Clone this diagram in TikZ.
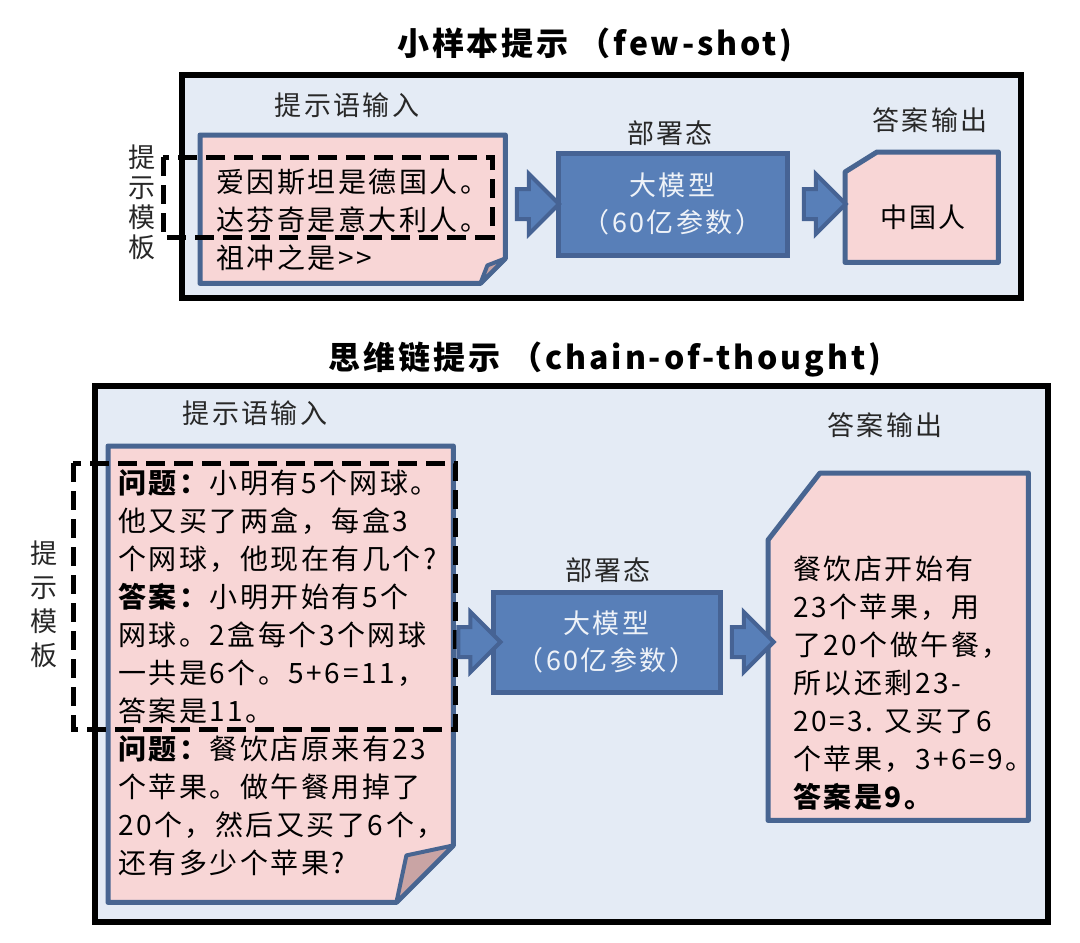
\documentclass[tikz,border=0pt]{standalone}
\usepackage{fontspec}
\setmainfont{Noto Sans CJK SC}[LetterSpace=9]
\usetikzlibrary{math}
\usetikzlibrary{calc}
\usetikzlibrary{shapes.arrows}

\definecolor{panelblue}{RGB}{228,235,245}
\definecolor{notepink}{RGB}{248,214,214}
\definecolor{noteblue}{RGB}{72,101,145}
\definecolor{flappink}{RGB}{201,164,164}
\definecolor{modelfill}{RGB}{88,127,184}
\definecolor{modelline}{RGB}{70,99,148}
\definecolor{modeltext}{RGB}{238,242,248}
\definecolor{labelgray}{RGB}{40,40,40}

\tikzset{
	panelbox/.style={draw=black, line width=6pt, fill=panelblue},
	notebox/.style={rectangle, inner sep=0pt},
	noteline/.style={draw=noteblue, line width=5pt, fill=notepink, line join=round},
	flapline/.style={draw=noteblue, line width=4pt, fill=flappink, line join=round},
	modelbox/.style={rectangle, draw=modelline, fill=modelfill, line width=5pt, text=modeltext, align=center, font=\fontsize{27}{37}\selectfont},
	blockarrow/.style={single arrow, draw=modelline, fill=modelfill, line width=4pt, minimum height=42pt, inner xsep=0pt, inner ysep=13pt, single arrow head extend=15pt, single arrow head indent=0pt},
	templatebox/.style={draw=black, line width=5pt, dash pattern=on 19pt off 9pt},
	caption/.style={font=\fontsize{27}{27}\selectfont, text=labelgray},
	heading/.style={font=\bfseries\fontsize{32}{32}\selectfont},
	body/.style={anchor=north west, inner sep=0pt, align=left, font=\fontsize{28}{38}\selectfont},
	sidelabel/.style={align=center, inner sep=0pt, text=labelgray},
}

\begin{document}
\begin{tikzpicture}[x=1pt, y=-1pt]
	% Constants
	\tikzmath{
		\foldsmall = 25; \foldlarge = 57;
	}
	\useasboundingbox[fill=white] (0,0) rectangle (1080,943);

	% ---- Few-shot ----
	\begin{scope}
		\node[heading] (fewtitle) at (595,45) {小样本提示\ （few-shot)};
		% Panel
		\draw[panelbox] (182,75) rectangle (1021,298);
		\node[caption] (fewinlabel) at (347,105) {提示语输入};
		% Prompt page with folded corner
		\node[notebox, minimum width=305pt, minimum height=148pt, anchor=north west] (fewdoc) at (200,135) {};
		\draw[noteline] (fewdoc.north west) -- (fewdoc.north east) -- ([yshift=\foldsmall]fewdoc.south east)
			-- ([xshift=-\foldsmall]fewdoc.south east) -- (fewdoc.south west) -- cycle;
		\draw[flapline] ([yshift=\foldsmall]fewdoc.south east) -- ([xshift=-18pt, yshift=18pt]fewdoc.south east)
			-- ([xshift=-\foldsmall]fewdoc.south east) -- cycle;
		\node[body] (fewprompt) at (216,169) {爱因斯坦是德国人。\\达芬奇是意大利人。\\祖冲之是>{}>};
		% Template
		\draw[templatebox] (163,157) rectangle (492,237);
		\node[sidelabel, font=\fontsize{27}{30}\selectfont] (fewtemplate) at (142,202) {提\\示\\模\\板};
		% Model
		\node[caption] (fewmodellabel) at (670,133) {部署态};
		\node[modelbox, minimum width=229pt, minimum height=102pt] (fewmodel) at (672.5,204) {大模型\\（60亿参数）};
		% Answer
		\node[caption] (fewoutlabel) at (930,120) {答案输出};
		\node[notebox, minimum width=153pt, minimum height=110pt, anchor=north west] (fewout) at (845,152) {};
		\draw[noteline] ([yshift=-20pt]fewout.north west) -- ([xshift=32pt]fewout.north west) -- (fewout.north east)
			-- (fewout.south east) -- (fewout.south west) -- cycle;
		\node[font=\fontsize{27}{27}\selectfont] (fewanswer) at (923,217) {中国人};
		% Flow
		\node[blockarrow] (fewarrowa) at ($(fewdoc.east |- fewmodel.west)!0.5!(fewmodel.west)$) {};
		\node[blockarrow] (fewarrowb) at ($(fewmodel.east)!0.5!(fewout.west |- fewmodel.east)$) {};
	\end{scope}

	% ---- Chain-of-thought ----
	\begin{scope}
		\node[heading] (cottitle) at (605,360) {思维链提示\ （chain-of-thought)};
		% Panel
		\draw[panelbox] (95,386) rectangle (1048,922);
		\node[caption] (cotinlabel) at (255,413) {提示语输入};
		% Prompt page with folded corner
		\node[notebox, minimum width=345pt, minimum height=456pt, anchor=north west] (cotdoc) at (108,446) {};
		\draw[noteline] (cotdoc.north west) -- (cotdoc.north east) -- ([yshift=\foldlarge]cotdoc.south east)
			-- ([xshift=-\foldlarge]cotdoc.south east) -- (cotdoc.south west) -- cycle;
		\draw[flapline] ([yshift=\foldlarge]cotdoc.south east) -- ([xshift=-47pt, yshift=47pt]cotdoc.south east)
			-- ([xshift=-\foldlarge]cotdoc.south east) -- cycle;
		\node[body] (cotprompt) at (118,469) {\textbf{问题：}小明有5个网球。\\他又买了两盒，每盒3\\个网球，他现在有几个?\\
			\textbf{答案：}小明开始有5个\\网球。2盒每个3个网球\\一共是6个。5+6=11，\\答案是11。\\
			\textbf{问题：}餐饮店原来有23\\个苹果。做午餐用掉了\\20个，然后又买了6个，\\还有多少个苹果?};
		% Template
		\draw[templatebox] (73,463) rectangle (455,729);
		\node[sidelabel, font=\fontsize{27}{34}\selectfont] (cottemplate) at (44,604) {提\\示\\模\\板};
		% Model
		\node[caption] (cotmodellabel) at (608,570) {部署态};
		\node[modelbox, minimum width=227pt, minimum height=100pt] (cotmodel) at (606.5,642) {大模型\\（60亿参数）};
		% Answer
		\node[caption] (cotoutlabel) at (885,425) {答案输出};
		\node[notebox, minimum width=260pt, minimum height=347pt, anchor=north west] (cotout) at (768,473) {};
		\draw[noteline] ([yshift=-67pt]cotout.north west) -- ([xshift=52pt]cotout.north west) -- (cotout.north east)
			-- (cotout.south east) -- (cotout.south west) -- cycle;
		\node[body] (cotanswer) at (793,556) {餐饮店开始有\\23个苹果，用\\了20个做午餐，\\所以还剩23-\\20=3. 又买了6\\个苹果，3+6=9。\\\textbf{答案是9。}};
		% Flow
		\node[blockarrow] (cotarrowa) at ($(cotdoc.east |- cotmodel.west)!0.5!(cotmodel.west)$) {};
		\node[blockarrow] (cotarrowb) at ($(cotmodel.east)!0.5!(cotout.west |- cotmodel.east)$) {};
	\end{scope}
\end{tikzpicture}
\end{document}
